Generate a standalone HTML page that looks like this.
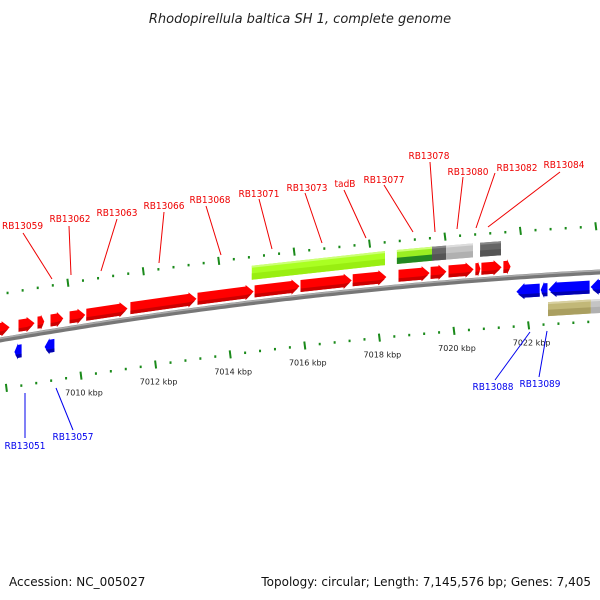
<!DOCTYPE html>
<html><head><meta charset="utf-8"><style>
body{margin:0;background:#fff;}
svg{display:block;font-family:"DejaVu Sans","Liberation Sans",sans-serif;}
.lbl{font-family:"DejaVu Sans Condensed","DejaVu Sans","Liberation Sans",sans-serif;}
</style></head><body>
<svg id="chart" width="600" height="600" viewBox="0 0 600 600">
<text x="300" y="23" text-anchor="middle" font-size="13" font-style="italic" fill="#222">Rhodopirellula baltica SH 1, complete genome</text>
<text x="9" y="586" font-size="12" fill="#111">Accession: NC_005027</text>
<text x="591" y="586" text-anchor="end" font-size="12" fill="#111">Topology: circular; Length: 7,145,576 bp; Genes: 7,405</text>
<g id="layer"></g>
</svg>
<script>
// data (kbp positions)
const tickKbp = [7008,7010,7012,7014,7016,7018,7020,7022,7024];
const tickLabels = ["7008 kbp","7010 kbp","7012 kbp","7014 kbp","7016 kbp","7018 kbp","7020 kbp","7022 kbp","7024 kbp"];
const fwdStart = [7007.6,7008.31,7008.82,7009.17,7009.68,7010.13,7011.31,7013.11,7014.64,7015.87,7017.27,7018.50,7019.36,7019.84,7020.56,7020.72,7021.31];
const fwdEnd   = [7008.10,7008.77,7009.03,7009.54,7010.13,7011.26,7013.11,7014.64,7015.87,7017.27,7018.20,7019.36,7019.81,7020.54,7020.72,7021.29,7021.53];
const revStart = [7008.20,7009.01,7021.66,7022.31,7022.52,7023.65];
const revEnd   = [7008.42,7009.30,7022.31,7022.52,7023.65,7024.2];
const featStart = [7014.58,7018.47,7019.41,7019.79,7020.70,7022.52,7023.67];
const featEnd   = [7018.15,7019.41,7019.79,7020.51,7021.26,7023.67,7024.2];
const featType  = ["gene-light","gene-green","misc-dark","misc-light","misc-dark","khaki","misc-light"];
const labelNames = ["RB13059","RB13062","RB13063","RB13066","RB13068","RB13071","RB13073","tadB","RB13077","RB13078","RB13080","RB13082","RB13084","RB13051","RB13057","RB13088","RB13089"];

// layout (pixels, not data)
const labelLayout = [
 [2,229,"start",23,233,52,279,"#e00"],[70,222,"middle",69,226,71,275,"#e00"],[117,216,"middle",117,219,101,271,"#e00"],
 [164,209,"middle",164,212,159,263,"#e00"],[210,203,"middle",206,206,221,255,"#e00"],[259,197,"middle",259,199,272,249,"#e00"],
 [307,191,"middle",305,193,322,243,"#e00"],[345,187,"middle",344,190,366,238,"#e00"],[384,183,"middle",384,185,413,232,"#e00"],
 [429,159,"middle",430,162,435,232,"#e00"],[468,175,"middle",463,177,457,229,"#e00"],[517,171,"middle",495,173,476,228,"#e00"],
 [564,168,"middle",560,172,488,227,"#e00"],
 [25,449,"middle",25,393,25,438,"#00e"],[73,440,"middle",56,388,73,430,"#00e"],[493,390,"middle",530,332,495,380,"#00e"],[540,387,"middle",547,331,539,377,"#00e"]
];
const NS="http://www.w3.org/2000/svg";
const layer=document.getElementById('layer');
function X(k){return 81+(k-7010)*37.3;}
function B(x){return 340-0.1733*x+0.0001*x*x;}
function mk(tag,attrs,parent){const e=document.createElementNS(NS,tag);for(const a in attrs)e.setAttribute(a,attrs[a]);(parent||layer).appendChild(e);return e;}
function pts(a){return a.map(p=>p[0].toFixed(1)+','+p[1].toFixed(1)).join(' ');}

// backbone
let d='';for(let x=-5;x<=605;x+=5){d+=(x<0?'M':'L')+x+','+B(x).toFixed(1);}
let bb=mk('path',{d:d,stroke:'#777',"stroke-width":5,fill:'none'});


let bb2=mk('path',{d:d,stroke:'#aaa',"stroke-width":1.5,fill:'none',transform:'translate(0,-1.5)'});



// tick rows
function tickRow(off,shift,name,withLabels){
 const g=mk('g',{});
 
 
 for(let i=0;i<tickKbp.length;i++){
  for(let j=0;j<5;j++){
   const k=tickKbp[i]+j*0.4;
   let x=X(k); x=shift(x); if(x<0||x>600)continue;
   const y=B(x)+off;
   if(j===0){
    const t=mk('line',{x1:x-0.5,y1:y-4,x2:x+0.5,y2:y+4,stroke:'#1a8a1a',"stroke-width":2},g);
    
    
    if(withLabels && x>30 && x<570){
     const l=mk('text',{x:x+3,y:y+20,"font-size":8,"text-anchor":"middle",fill:'#222'},g);
     l.textContent=tickLabels[i];
     
     
    }
   } else {
    const t=mk('rect',{x:x-1,y:y-1,width:2,height:2.5,fill:'#1a8a1a'},g);
    
    
   }
  }
 }
}
tickRow(-46,x=>x-14+x*0.011,'upper-tick-row',false);
tickRow(49,x=>x,'lower-tick-row',true);

// gene drawing
function arrow(x0,x1,top,bot,dir,c1,c2,name){
 const g=mk('g',{});
 
 
 const w=x1-x0,h=Math.min(8,w*0.5),mid=(top+bot)/2;
 let P;
 if(dir>0)P=[[x0,B(x0)+top],[x1-h,B(x1-h)+top],[x1-h,B(x1-h)+top-1.5],[x1,B(x1)+mid],[x1-h,B(x1-h)+bot+1.5],[x1-h,B(x1-h)+bot],[x0,B(x0)+bot]];
 else P=[[x1,B(x1)+top],[x0+h,B(x0+h)+top],[x0+h,B(x0+h)+top-1.5],[x0,B(x0)+mid],[x0+h,B(x0+h)+bot+1.5],[x0+h,B(x0+h)+bot],[x1,B(x1)+bot]];
 mk('polygon',{points:pts(P),fill:c1},g);
 const s=bot-3.5;
 let Q;
 if(dir>0)Q=[[x0,B(x0)+s],[x1-h,B(x1-h)+s],[x1-h*0.2,B(x1)+s-0.5],[x1-h,B(x1-h)+bot+1.5],[x1-h,B(x1-h)+bot],[x0,B(x0)+bot]];
 else Q=[[x1,B(x1)+s],[x0+h,B(x0+h)+s],[x0+h*0.2,B(x0)+s-0.5],[x0+h,B(x0+h)+bot+1.5],[x0+h,B(x0+h)+bot],[x1,B(x1)+bot]];
 mk('polygon',{points:pts(Q),fill:c2},g);
}
function box(x0,x1,top,bot,c1,c2,c3,name){
 const g=mk('g',{});
 
 
 mk('polygon',{points:pts([[x0,B(x0)+top],[x1,B(x1)+top],[x1,B(x1)+bot],[x0,B(x0)+bot]]),fill:c1},g);
 const m=bot-(bot-top)*0.45;
 mk('polygon',{points:pts([[x0,B(x0)+m],[x1,B(x1)+m],[x1,B(x1)+bot],[x0,B(x0)+bot]]),fill:c2},g);
 mk('polygon',{points:pts([[x0,B(x0)+top],[x1,B(x1)+top],[x1,B(x1)+top+2],[x0,B(x0)+top+2]]),fill:c3},g);
}
for(let i=0;i<fwdStart.length;i++)arrow(X(fwdStart[i])+0.5,X(fwdEnd[i])-0.5,-17,-5,1,'#f00','#c00','forward-gene');
for(let i=0;i<revStart.length;i++)arrow(X(revStart[i])+0.5,X(revEnd[i])-0.5,8,21,-1,'#00f','#0000b0','reverse-gene');
const featCol={"gene-light":['#aaff22','#99ee11','#ccff77'],"gene-green":['#99ee22','#228822','#ccff77'],"misc-dark":['#666','#555','#888'],"misc-light":['#c4c4c4','#b0b0b0','#ddd'],"khaki":['#c2b878','#aa9f60','#d8d0a0']};
for(let i=0;i<featStart.length;i++){
 const c=featCol[featType[i]];
 const rowTop=featType[i]==='khaki'||i===6?27:-37, rowBot=rowTop+14;
 box(X(featStart[i]),X(featEnd[i]),rowTop,rowBot,c[0],c[1],c[2],'feature-'+featType[i]);
}

// labels
for(let i=0;i<labelNames.length;i++){
 const L=labelLayout[i];
 const ln=mk('line',{x1:L[3],y1:L[4],x2:L[5],y2:L[6],stroke:L[7],"stroke-width":1});
 
 
 const t=mk('text',{x:L[0],y:L[1],"text-anchor":L[2],"font-size":10,fill:L[7],"class":"lbl"});
 t.textContent=labelNames[i];
 
 
}
</script>
</body></html>
